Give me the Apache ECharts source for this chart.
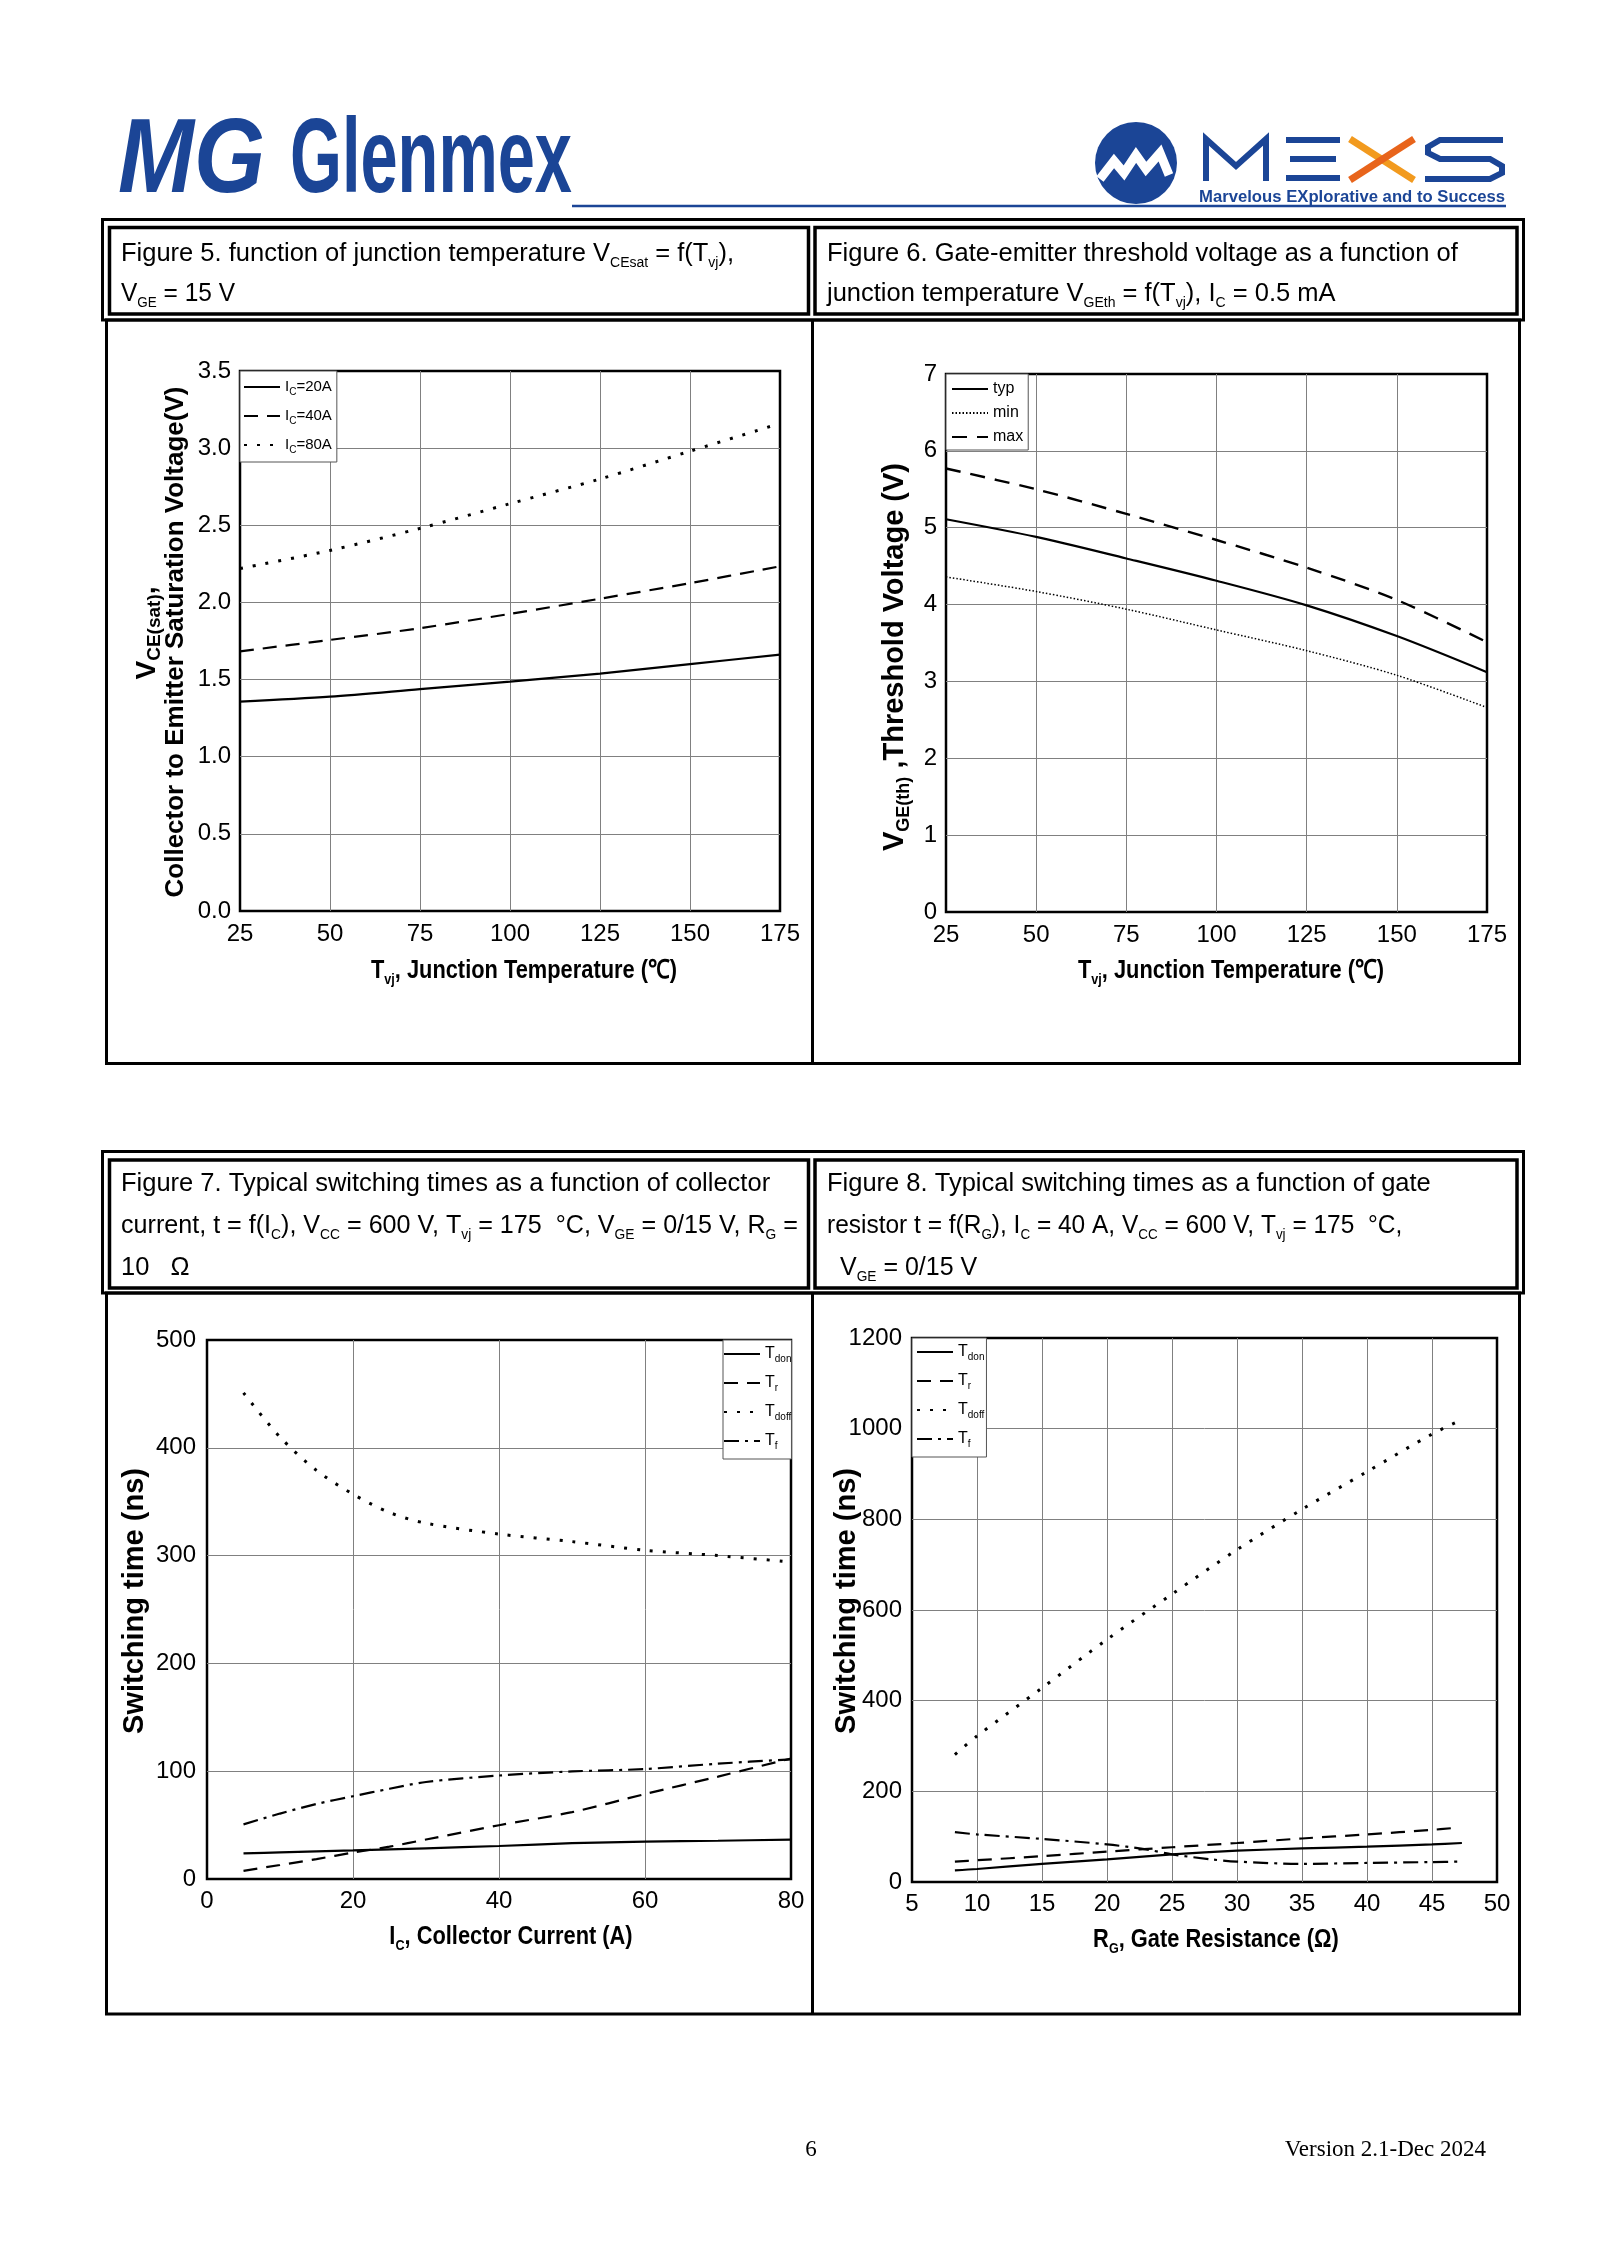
<!DOCTYPE html>
<html><head><meta charset="utf-8">
<script src="https://cdn.jsdelivr.net/npm/echarts@6/dist/echarts.min.js"></script>
<style>html,body{margin:0;padding:0;background:#fff}#c{width:1600px;height:2262px}</style>
</head><body><div id="c"></div>
<script>
// ---------------- DATA ----------------
// Figure 5: VCE(sat) vs Tvj
const tempC = [25, 50, 75, 100, 125, 150, 175];
const vceIc20 = [1.357, 1.389, 1.438, 1.487, 1.539, 1.600, 1.662];
const vceIc40 = [1.683, 1.757, 1.833, 1.926, 2.024, 2.125, 2.234];
const vceIc80 = [2.22, 2.337, 2.48, 2.64, 2.80, 2.98, 3.16];
// Figure 6: VGE(th) vs Tvj
const vgeTyp = [5.11, 4.88, 4.60, 4.31, 3.99, 3.59, 3.12];
const vgeMin = [4.36, 4.17, 3.94, 3.67, 3.40, 3.08, 2.66];
const vgeMax = [5.77, 5.50, 5.18, 4.84, 4.48, 4.06, 3.51];
// Figure 7: switching times vs IC
const icA = [5, 10, 15, 20, 25, 30, 40, 50, 60, 70, 80];
const tdonIc = [23.7, 24.7, 25.6, 26.5, 27.5, 28.5, 30.6, 33.2, 34.6, 35.5, 36.6];
const trIc = [7.6, 13, 18.5, 24.5, 30, 36.6, 49.9, 62, 78.8, 95, 111.8];
const tdoffIc = [451, 410, 379, 357, 340, 330, 320, 313, 305, 300, 294];
const tfIc = [50.7, 60.7, 69.6, 76.8, 83.7, 90, 96, 99.8, 102, 107, 111];
// Figure 8: switching times vs RG
const rgOhm = [8.3, 10, 15, 20, 25, 30, 35, 40, 45, 47.3];
const tdonRg = [25.8, 28.7, 40, 50, 61, 69, 74, 78, 83, 86];
const rgOhmTr = [8.3, 10, 15, 20, 25, 30, 35, 40, 45, 46.5];
const trRg = [45, 48, 57, 67, 76.6, 86, 96, 105, 115, 118.7];
const tdoffRg = [281, 322, 428, 535, 635, 733, 822, 905, 988, 1020];
const rgOhmTf = [8.3, 10, 15, 20, 23, 25, 28, 30, 35, 40, 45, 47.3];
const tfRg = [110, 105, 95, 83, 72, 61, 50, 45, 40, 42, 44, 45];
// Tick labels
const fig5XTicks = [25, 50, 75, 100, 125, 150, 175];
const fig5YTicks = [0, 0.5, 1.0, 1.5, 2.0, 2.5, 3.0, 3.5];
const fig6XTicks = [25, 50, 75, 100, 125, 150, 175];
const fig6YTicks = [0, 1, 2, 3, 4, 5, 6, 7];
const fig7XTicks = [0, 20, 40, 60, 80];
const fig7YTicks = [0, 100, 200, 300, 400, 500];
const fig8XTicks = [5, 10, 15, 20, 25, 30, 35, 40, 45, 50];
const fig8YTicks = [0, 200, 400, 600, 800, 1000, 1200];

// ---------------- STYLE ----------------
const SANS = '"Liberation Sans",Arial,sans-serif';
const SERIF = '"Liberation Serif","Times New Roman",serif';
const BLUE = '#1b4596';
const GRIDC = '#808080';
const TICK_FS = 24;

const chart = echarts.init(document.getElementById('c'), null, {renderer: 'canvas', width: 1600, height: 2262});

const mctx = document.createElement('canvas').getContext('2d');
function measure(text, font) { mctx.font = font; return mctx.measureText(text).width; }

function axisFrom(ticks, gi, margin, fmt) {
  return {
    gridIndex: gi, type: 'value',
    min: ticks[0], max: ticks[ticks.length - 1], interval: ticks[1] - ticks[0],
    axisLine: {show: false}, axisTick: {show: false},
    splitLine: {show: true, showMinLine: false, showMaxLine: false, lineStyle: {color: GRIDC, width: 1}},
    axisLabel: {color: '#000', fontFamily: SANS, fontSize: TICK_FS, margin: margin,
      formatter: fmt || (v => String(v))}
  };
}

function line(name, xs, ys, gi, ls) {
  return {
    type: 'line', name: name, xAxisIndex: gi, yAxisIndex: gi,
    data: xs.map((x, i) => [x, ys[i]]),
    symbol: 'none', smooth: 0.3, silent: true, z: 3,
    itemStyle: {color: '#000'},
    lineStyle: Object.assign({color: '#000', width: 2.2}, ls)
  };
}
const SOLID = {type: 'solid', width: 2.2};
const DASH = {type: [14, 9], width: 2.2};
const DOTS = {type: [3, 10], width: 3};
const FINEDOT = {type: [1.5, 2], width: 1.5};
const DASHDOT = {type: [15, 6, 3, 6], width: 2.2};

const legendNames = {
  ic20: 'I{s|C}=20A', ic40: 'I{s|C}=40A', ic80: 'I{s|C}=80A',
  typ: 'typ', min: 'min', max: 'max',
  tdon7: 'T{s|don}', tr7: 'T{s|r}', tdoff7: 'T{s|doff}', tf7: 'T{s|f}',
  tdon8: 'T{s|don}', tr8: 'T{s|r}', tdoff8: 'T{s|doff}', tf8: 'T{s|f}'
};
function legend(left, top, data, padding, gap, fs, sfs) {
  return {
    left: left, top: top, orient: 'vertical', data: data, selectedMode: false,
    itemWidth: 36, itemHeight: 12, itemGap: gap, padding: padding,
    borderColor: '#555', borderWidth: 1, backgroundColor: '#fff', borderRadius: 0,
    itemStyle: {opacity: 0},
    formatter: n => legendNames[n],
    textStyle: {color: '#000', fontFamily: SANS, fontSize: fs, lineHeight: 20,
      rich: {s: {fontSize: sfs, fontFamily: SANS, color: '#000', verticalAlign: 'bottom', lineHeight: sfs}}}
  };
}

// ---------------- TEXT helpers ----------------
function rt(x, y, text, o) {
  o = o || {};
  const fs = o.fs || 24, fam = o.fam || SANS, fw = o.fw || 'normal';
  const sfs = o.sfs || Math.round(fs * 0.6);
  return {
    type: 'text', x: x, y: y, rotation: o.rot || 0, silent: true,
    scaleX: o.sx || 1, scaleY: o.sy || 1,
    style: {
      text: text, fontSize: fs, fontFamily: fam, fontWeight: fw, fill: o.color || '#000',
      align: o.align || 'left', verticalAlign: 'middle', lineHeight: o.lh || Math.round(fs * 1.25),
      rich: {
        s: {fontSize: sfs, fontFamily: fam, fontWeight: fw, fill: o.color || '#000',
            verticalAlign: 'bottom', lineHeight: sfs},
        b: {fontSize: fs, fontFamily: fam, fontWeight: fw, fill: o.color || '#000', lineHeight: o.lh || Math.round(fs * 1.25)}
      }
    }
  };
}
function rect(x1, y1, x2, y2, lw) {
  return {type: 'rect', silent: true, shape: {x: x1, y: y1, width: x2 - x1, height: y2 - y1},
    style: {fill: 'none', stroke: '#000', lineWidth: lw}};
}
function seg(x1, y1, x2, y2, lw, c) {
  return {type: 'line', silent: true, shape: {x1: x1, y1: y1, x2: x2, y2: y2},
    style: {stroke: c || '#000', lineWidth: lw}};
}

const T = (sx) => ({fs: 25.5, sfs: 14, sx: sx || 1});
const AX = {fs: 26, fw: 'bold', align: 'center', sfs: 15, sx: 0.84};
const glenFont = 'bold 105px ' + SANS;
const glenScale = 282 / measure('Glenmex', glenFont);
const mgFont = 'italic bold 105px ' + SANS;
const mgScale = 147 / measure('MG', mgFont);
const subFont = 'bold 17px ' + SANS;
const subScale = 306 / measure('Marvelous EXplorative and to Success', subFont);

const cx = 1136, cy = 163;
const graphics = [
  // ---- header ----
  {type: 'text', x: 118, y: 163, scaleX: mgScale, silent: true,
    style: {text: 'MG', font: mgFont, fill: BLUE, align: 'left', verticalAlign: 'middle'}},
  {type: 'text', x: 290, y: 163, scaleX: glenScale, silent: true,
    style: {text: 'Glenmex', font: glenFont, fill: BLUE, align: 'left', verticalAlign: 'middle'}},
  seg(572, 206, 1506, 206, 2.5, BLUE),
  {type: 'circle', silent: true, shape: {cx: cx, cy: cy, r: 41}, style: {fill: BLUE}},
  {type: 'polyline', silent: true, shape: {points: [[cx - 36, cy + 16], [cx - 22, cy - 2], [cx - 12, cy + 10], [cx, cy - 8], [cx + 10, cy + 6], [cx + 24, cy - 10], [cx + 33, cy + 12]]},
    style: {stroke: '#fff', lineWidth: 9, fill: 'none', lineJoin: 'miter'}},
  {type: 'polyline', silent: true, shape: {points: [[1206, 181], [1206, 139], [1236, 166], [1266, 139], [1266, 181]]},
    style: {stroke: BLUE, lineWidth: 6, fill: 'none'}},
  seg(1286, 140, 1340, 140, 6, BLUE), seg(1290, 159, 1336, 159, 6, BLUE), seg(1286, 178, 1340, 178, 6, BLUE),
  seg(1350, 139, 1414, 180, 7, '#f29a1e'), seg(1414, 139, 1350, 180, 7, '#e8641b'),
  {type: 'polyline', silent: true, shape: {points: [[1503, 140], [1440, 140], [1428, 147], [1428, 153], [1440, 159], [1490, 159], [1502, 166], [1502, 173], [1490, 179], [1425, 179]]},
    style: {stroke: BLUE, lineWidth: 6, fill: 'none'}},
  {type: 'text', x: 1199, y: 197, scaleX: subScale, silent: true,
    style: {text: 'Marvelous EXplorative and to Success', font: subFont, fill: BLUE, align: 'left', verticalAlign: 'middle'}},

  // ---- top table ----
  rect(102.5, 219.5, 1523.5, 320, 3),
  rect(109.5, 227.5, 808.5, 314, 3.5),
  rect(815, 227.5, 1517, 314, 3.5),
  rect(106.5, 320, 1519.5, 1063.5, 3),
  seg(812.5, 320, 812.5, 1063.5, 3),
  // ---- bottom table ----
  rect(102.5, 1151.5, 1523.5, 1293, 3),
  rect(109.5, 1160, 808.5, 1288, 3.5),
  rect(815, 1160, 1517, 1288, 3.5),
  rect(106.5, 1293, 1519.5, 2014, 3),
  seg(812.5, 1293, 812.5, 2014, 3),

  // ---- title cell texts ----
  rt(121, 254, 'Figure 5. function of junction temperature V{s|CEsat} = f(T{s|vj}),', T()),
  rt(121, 294, 'V{s|GE} = 15 V', T(0.96)),
  rt(827, 254, 'Figure 6. Gate-emitter threshold voltage as a function of', T()),
  rt(827, 294, 'junction temperature V{s|GEth} = f(T{s|vj}), I{s|C} = 0.5 mA', T()),
  rt(121, 1184, 'Figure 7. Typical switching times as a function of collector', T()),
  rt(121, 1226, 'current, t = f(I{s|C}), V{s|CC} = 600 V, T{s|vj} = 175  °C, V{s|GE} = 0/15 V, R{s|G} =', T(0.985)),
  rt(121, 1268, '10   Ω', T()),
  rt(827, 1184, 'Figure 8. Typical switching times as a function of gate', T()),
  rt(827, 1226, 'resistor t = f(R{s|G}), I{s|C} = 40 A, V{s|CC} = 600 V, T{s|vj} = 175  °C,', T(0.96)),
  rt(840, 1268, 'V{s|GE} = 0/15 V', T(0.98)),

  // ---- axis titles ----
  rt(524, 971, 'T{s|vj}, Junction Temperature (℃)', AX),
  rt(1231, 971, 'T{s|vj}, Junction Temperature (℃)', AX),
  rt(511, 1937, 'I{s|C}, Collector Current (A)', AX),
  rt(1216, 1940, 'R{s|G}, Gate Resistance (Ω)', AX),
  rt(147, 633, '{b|V}{s|CE(sat)}{b|,}', {fs: 28, fw: 'bold', align: 'center', rot: Math.PI / 2, sfs: 19}),
  rt(176, 642, 'Collector to Emitter Saturation Voltage(V)', {fs: 26, fw: 'bold', align: 'center', rot: Math.PI / 2}),
  rt(895, 657, '{b|V}{s|GE(th)}{b| ,Threshold Voltage (V)}', {fs: 29, fw: 'bold', align: 'center', rot: Math.PI / 2, sfs: 18}),
  rt(135, 1601, 'Switching time (ns)', {fs: 29, fw: 'bold', align: 'center', rot: Math.PI / 2}),
  rt(847, 1601, 'Switching time (ns)', {fs: 29, fw: 'bold', align: 'center', rot: Math.PI / 2}),

  // ---- footer ----
  rt(811, 2150, '6', {fs: 23, fam: SERIF, align: 'center'}),
  rt(1486, 2150, 'Version 2.1-Dec 2024', {fs: 23, fam: SERIF, align: 'right'})
];

const option = {
  animation: false,
  backgroundColor: '#fff',
  grid: [
    {left: 240, top: 371, width: 540, height: 540, show: true, borderColor: '#000', borderWidth: 2.5, backgroundColor: 'transparent'},
    {left: 946, top: 374, width: 541, height: 538, show: true, borderColor: '#000', borderWidth: 2.5, backgroundColor: 'transparent'},
    {left: 207, top: 1340, width: 584, height: 539, show: true, borderColor: '#000', borderWidth: 2.5, backgroundColor: 'transparent'},
    {left: 912, top: 1338, width: 585, height: 544, show: true, borderColor: '#000', borderWidth: 2.5, backgroundColor: 'transparent'}
  ],
  xAxis: [
    axisFrom(fig5XTicks, 0, 11),
    axisFrom(fig6XTicks, 1, 11),
    axisFrom(fig7XTicks, 2, 10),
    axisFrom(fig8XTicks, 3, 10)
  ],
  yAxis: [
    axisFrom(fig5YTicks, 0, 9, v => v.toFixed(1)),
    axisFrom(fig6YTicks, 1, 9),
    axisFrom(fig7YTicks, 2, 11),
    axisFrom(fig8YTicks, 3, 10)
  ],
  legend: [
    legend(240, 371, ['ic20', 'ic40', 'ic80'], [6, 5, 7, 3], 9, 15, 10),
    legend(946, 374, ['typ', 'min', 'max'], [5, 5, 3, 5], 4, 16, 10),
    legend(723, 1340, ['tdon7', 'tr7', 'tdoff7', 'tf7'], [4, 0, 8, 0], 9, 16, 10),
    legend(912, 1338, ['tdon8', 'tr8', 'tdoff8', 'tf8'], [4, 2, 8, 4], 9, 16, 10)
  ],
  series: [
    line('ic20', tempC, vceIc20, 0, SOLID),
    line('ic40', tempC, vceIc40, 0, DASH),
    line('ic80', tempC, vceIc80, 0, DOTS),
    line('typ', tempC, vgeTyp, 1, SOLID),
    line('min', tempC, vgeMin, 1, FINEDOT),
    line('max', tempC, vgeMax, 1, {type: [15, 10], width: 2.4}),
    line('tdon7', icA, tdonIc, 2, SOLID),
    line('tr7', icA, trIc, 2, DASH),
    line('tdoff7', icA, tdoffIc, 2, DOTS),
    line('tf7', icA, tfIc, 2, DASHDOT),
    line('tdon8', rgOhm, tdonRg, 3, SOLID),
    line('tr8', rgOhmTr, trRg, 3, DASH),
    line('tdoff8', rgOhm, tdoffRg, 3, DOTS),
    line('tf8', rgOhmTf, tfRg, 3, DASHDOT)
  ],
  graphic: {elements: graphics}
};
chart.setOption(option);
</script>
</body></html>
